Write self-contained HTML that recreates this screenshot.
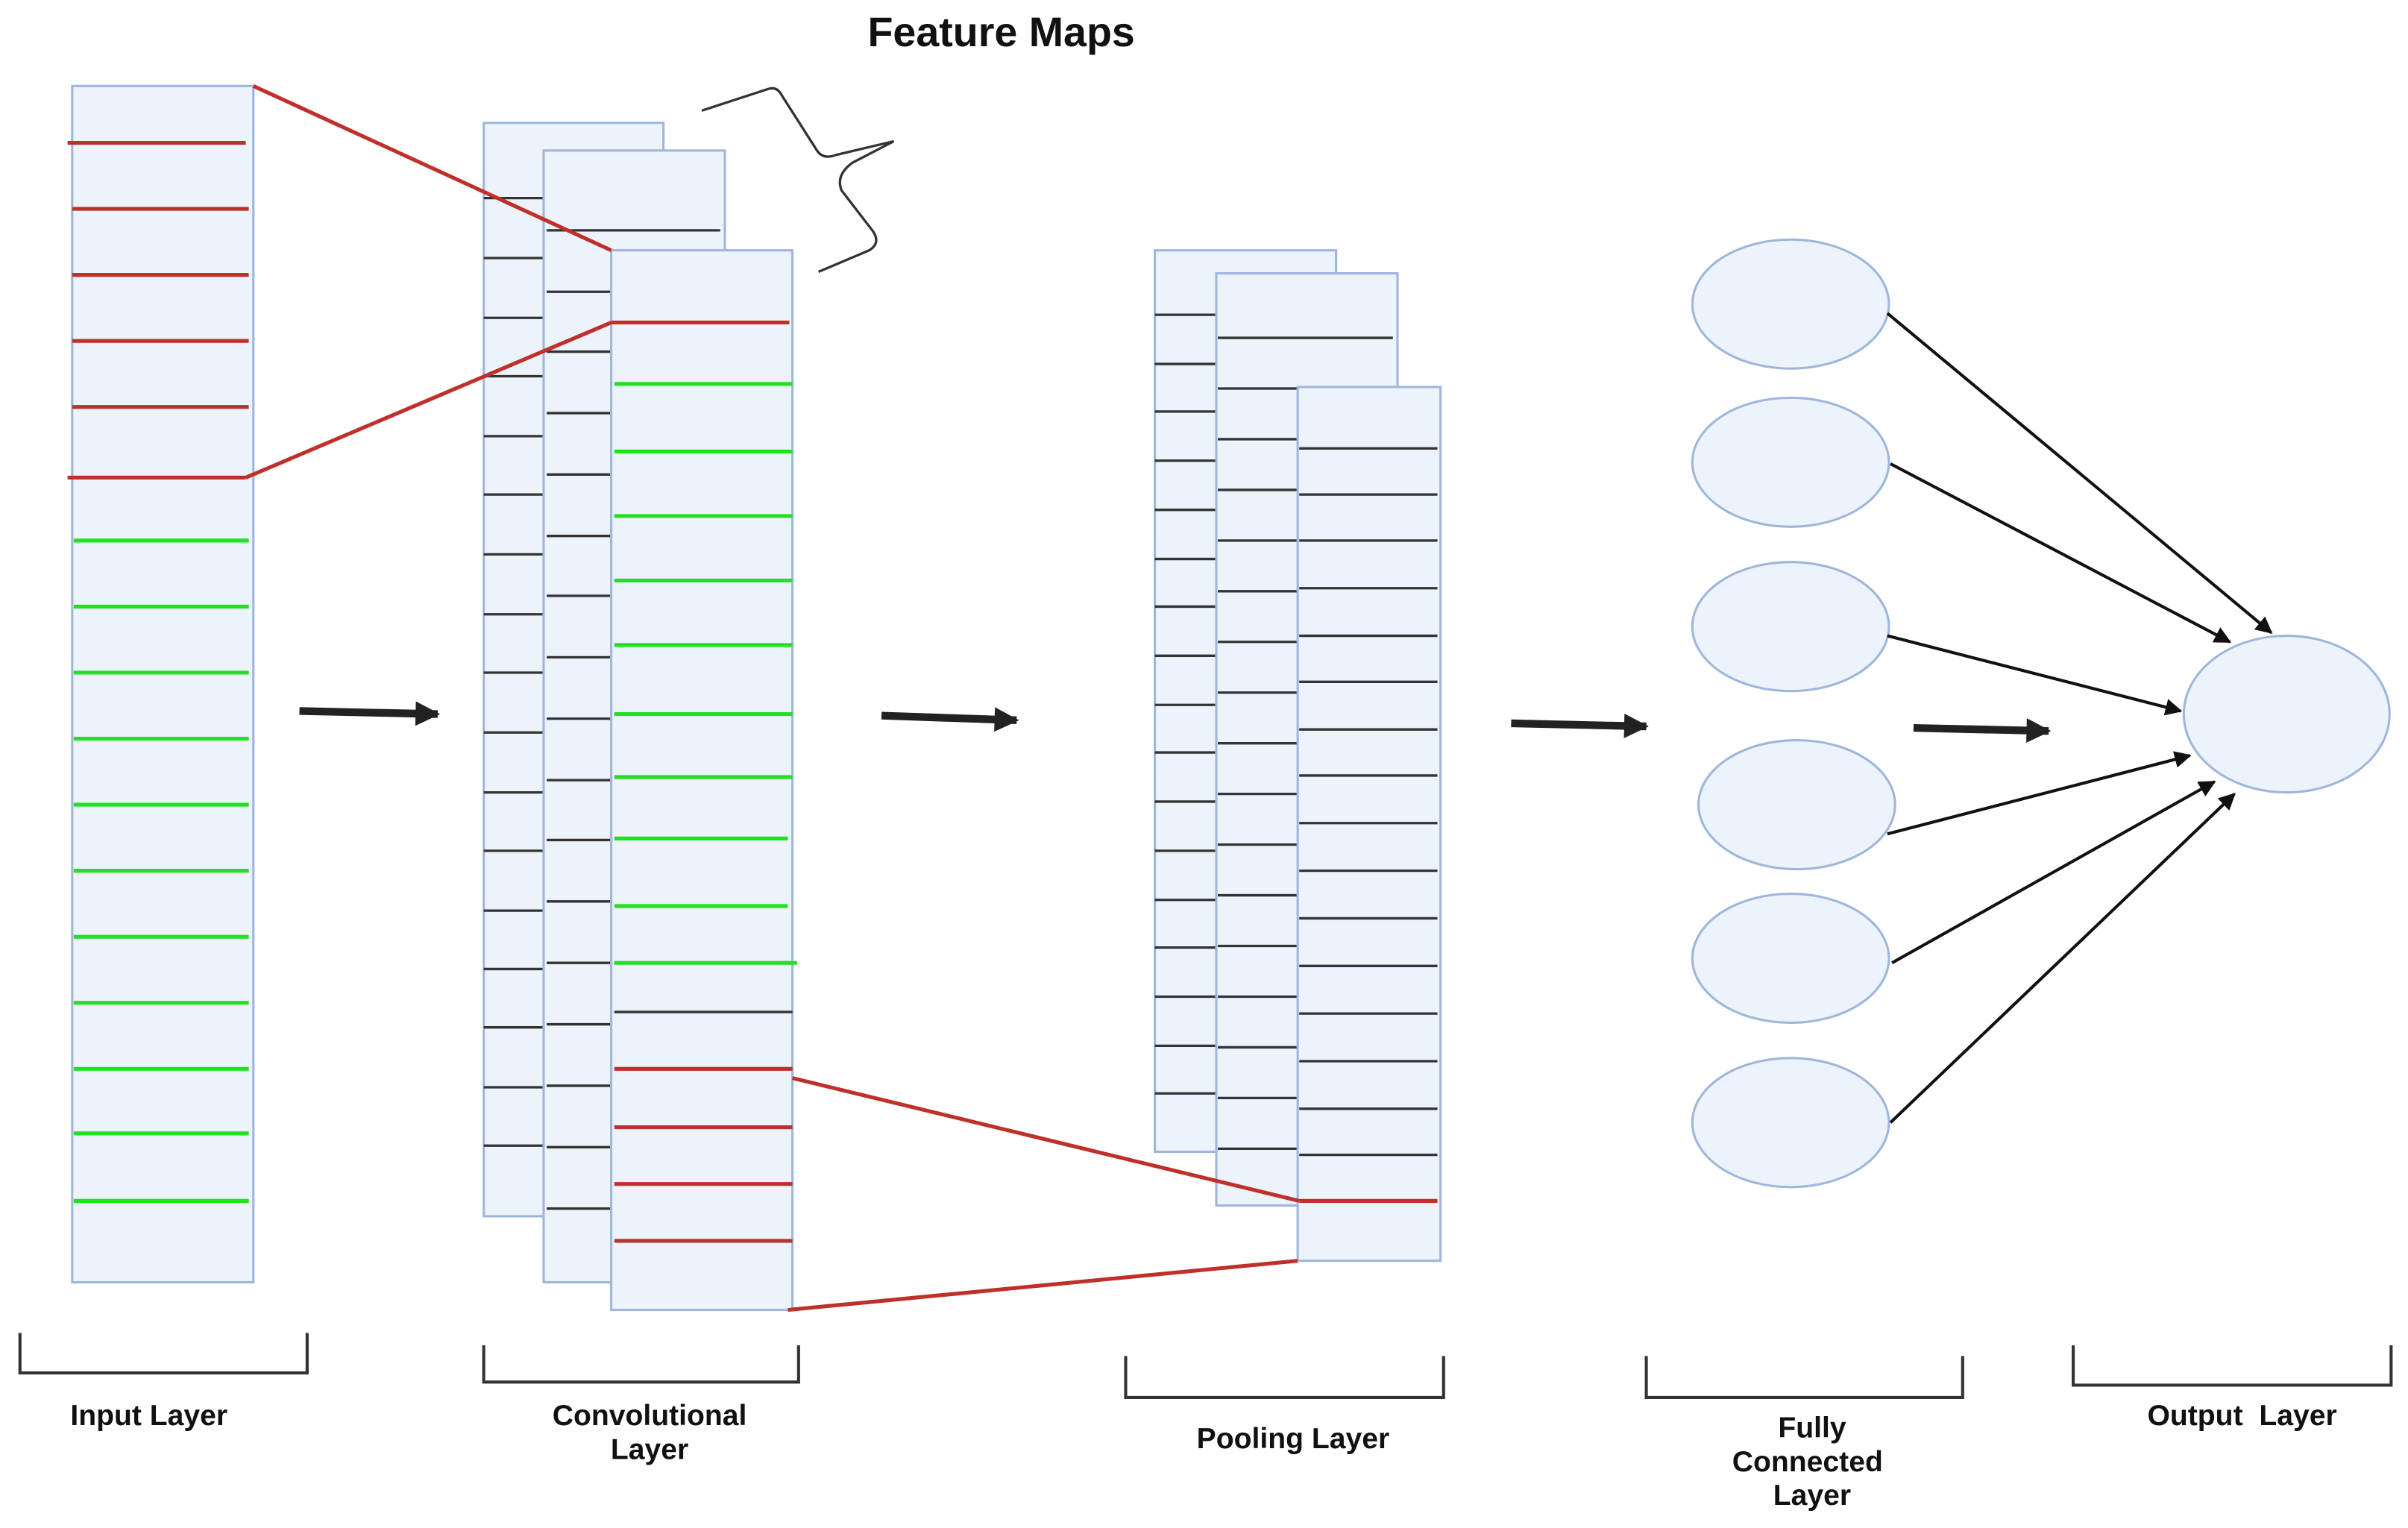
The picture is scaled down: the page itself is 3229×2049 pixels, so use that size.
<!DOCTYPE html>
<html><head><meta charset="utf-8"><style>
html,body{margin:0;padding:0;background:#fff;}
svg{display:block;}
text{font-family:"Liberation Sans",sans-serif;font-weight:bold;fill:#111;}
</style></head><body>
<svg width="3229" height="2049" viewBox="0 0 1568 995" preserveAspectRatio="none" xmlns="http://www.w3.org/2000/svg">
<defs>
<marker id="ah" viewBox="0 0 10 10" refX="9" refY="5" markerWidth="16" markerHeight="11" orient="auto" markerUnits="userSpaceOnUse"><path d="M0,0 L10,5 L0,10 z" fill="#111"/></marker>
<marker id="ah2" viewBox="0 0 10 10" refX="9" refY="5" markerWidth="18" markerHeight="16" orient="auto" markerUnits="userSpaceOnUse"><path d="M0,0 L10,5 L0,10 z" fill="#222"/></marker>
</defs>
<rect width="1568" height="995" fill="#fff"/>
<text x="652" y="30" font-size="27" text-anchor="middle">Feature Maps</text>

<!-- Input layer -->
<rect x="47" y="56" width="118" height="779" fill="#edf3fb" stroke="#9fb6dc" stroke-width="1.5"/>
<g stroke="#c0302a" stroke-width="2.5">
<line x1="44" y1="93" x2="160" y2="93"/><line x1="47" y1="136" x2="162" y2="136"/><line x1="47" y1="179" x2="162" y2="179"/><line x1="47" y1="222" x2="162" y2="222"/><line x1="47" y1="265" x2="162" y2="265"/><line x1="44" y1="311" x2="160" y2="311"/>
</g>
<g stroke="#22e022" stroke-width="2.5">
<line x1="48" y1="352" x2="162" y2="352"/><line x1="48" y1="395" x2="162" y2="395"/><line x1="48" y1="438" x2="162" y2="438"/><line x1="48" y1="481" x2="162" y2="481"/><line x1="48" y1="524" x2="162" y2="524"/><line x1="48" y1="567" x2="162" y2="567"/><line x1="48" y1="610" x2="162" y2="610"/><line x1="48" y1="653" x2="162" y2="653"/><line x1="48" y1="696" x2="162" y2="696"/><line x1="48" y1="738" x2="162" y2="738"/><line x1="48" y1="782" x2="162" y2="782"/>
</g>

<!-- Conv layer -->
<rect x="315" y="80" width="117" height="712" fill="#edf3fb" stroke="#9fb6dc" stroke-width="1.5"/>
<g stroke="#333" stroke-width="1.6">
<line x1="315" y1="129" x2="354" y2="129"/><line x1="315" y1="168" x2="354" y2="168"/><line x1="315" y1="207" x2="354" y2="207"/><line x1="315" y1="245" x2="354" y2="245"/><line x1="315" y1="284" x2="354" y2="284"/><line x1="315" y1="322" x2="354" y2="322"/><line x1="315" y1="361" x2="354" y2="361"/><line x1="315" y1="400" x2="354" y2="400"/><line x1="315" y1="438" x2="354" y2="438"/><line x1="315" y1="477" x2="354" y2="477"/><line x1="315" y1="516" x2="354" y2="516"/><line x1="315" y1="554" x2="354" y2="554"/><line x1="315" y1="593" x2="354" y2="593"/><line x1="315" y1="631" x2="354" y2="631"/><line x1="315" y1="669" x2="354" y2="669"/><line x1="315" y1="708" x2="354" y2="708"/><line x1="315" y1="746" x2="354" y2="746"/>
</g>
<rect x="354" y="98" width="118" height="737" fill="#edf3fb" stroke="#9fb6dc" stroke-width="1.5"/>
<g stroke="#333" stroke-width="1.6">
<line x1="356" y1="150" x2="469" y2="150"/><line x1="356" y1="190" x2="398" y2="190"/><line x1="356" y1="229" x2="398" y2="229"/><line x1="356" y1="269" x2="398" y2="269"/><line x1="356" y1="309" x2="398" y2="309"/><line x1="356" y1="349" x2="398" y2="349"/><line x1="356" y1="388" x2="398" y2="388"/><line x1="356" y1="428" x2="398" y2="428"/><line x1="356" y1="468" x2="398" y2="468"/><line x1="356" y1="508" x2="398" y2="508"/><line x1="356" y1="547" x2="398" y2="547"/><line x1="356" y1="587" x2="398" y2="587"/><line x1="356" y1="627" x2="398" y2="627"/><line x1="356" y1="667" x2="398" y2="667"/><line x1="356" y1="707" x2="398" y2="707"/><line x1="356" y1="747" x2="398" y2="747"/><line x1="356" y1="787" x2="398" y2="787"/>
</g>
<rect x="398" y="163" width="118" height="690" fill="#edf3fb" stroke="#9fb6dc" stroke-width="1.5"/>
<g stroke="#22e022" stroke-width="2.5">
<line x1="400" y1="250" x2="516" y2="250"/><line x1="400" y1="294" x2="516" y2="294"/><line x1="400" y1="336" x2="516" y2="336"/><line x1="400" y1="378" x2="516" y2="378"/><line x1="400" y1="420" x2="516" y2="420"/><line x1="400" y1="465" x2="516" y2="465"/><line x1="400" y1="506" x2="516" y2="506"/><line x1="400" y1="546" x2="513" y2="546"/><line x1="400" y1="590" x2="513" y2="590"/><line x1="400" y1="627" x2="519" y2="627"/>
</g>
<line x1="400" y1="659" x2="516" y2="659" stroke="#333" stroke-width="1.6"/>
<g stroke="#c0302a" stroke-width="2.5">
<line x1="398" y1="210" x2="514" y2="210"/><line x1="400" y1="696" x2="516" y2="696"/><line x1="400" y1="734" x2="516" y2="734"/><line x1="400" y1="771" x2="516" y2="771"/><line x1="400" y1="808" x2="516" y2="808"/>
<line x1="165" y1="56" x2="398" y2="163"/><line x1="160" y1="311" x2="398" y2="210"/>
</g>
<!-- brace -->
<path d="M457,72 L500,58 Q506,56 509,62 L532,98 Q536,104 544,101 L582,92 L555,106 Q544,114 548,124 L568,150 Q574,158 566,163 L533,177" fill="none" stroke="#333" stroke-width="1.6"/>

<!-- Pooling -->
<rect x="752" y="163" width="118" height="587" fill="#edf3fb" stroke="#9fb6dc" stroke-width="1.5"/>
<g stroke="#333" stroke-width="1.6">
<line x1="752" y1="205" x2="792" y2="205"/><line x1="752" y1="237" x2="792" y2="237"/><line x1="752" y1="268" x2="792" y2="268"/><line x1="752" y1="300" x2="792" y2="300"/><line x1="752" y1="332" x2="792" y2="332"/><line x1="752" y1="364" x2="792" y2="364"/><line x1="752" y1="395" x2="792" y2="395"/><line x1="752" y1="427" x2="792" y2="427"/><line x1="752" y1="459" x2="792" y2="459"/><line x1="752" y1="490" x2="792" y2="490"/><line x1="752" y1="522" x2="792" y2="522"/><line x1="752" y1="554" x2="792" y2="554"/><line x1="752" y1="586" x2="792" y2="586"/><line x1="752" y1="617" x2="792" y2="617"/><line x1="752" y1="649" x2="792" y2="649"/><line x1="752" y1="681" x2="792" y2="681"/><line x1="752" y1="712" x2="792" y2="712"/>
</g>
<rect x="792" y="178" width="118" height="607" fill="#edf3fb" stroke="#9fb6dc" stroke-width="1.5"/>
<g stroke="#333" stroke-width="1.6">
<line x1="793" y1="220" x2="907" y2="220"/><line x1="793" y1="253" x2="845" y2="253"/><line x1="793" y1="286" x2="845" y2="286"/><line x1="793" y1="319" x2="845" y2="319"/><line x1="793" y1="352" x2="845" y2="352"/><line x1="793" y1="385" x2="845" y2="385"/><line x1="793" y1="418" x2="845" y2="418"/><line x1="793" y1="451" x2="845" y2="451"/><line x1="793" y1="484" x2="845" y2="484"/><line x1="793" y1="517" x2="845" y2="517"/><line x1="793" y1="550" x2="845" y2="550"/><line x1="793" y1="583" x2="845" y2="583"/><line x1="793" y1="616" x2="845" y2="616"/><line x1="793" y1="649" x2="845" y2="649"/><line x1="793" y1="682" x2="845" y2="682"/><line x1="793" y1="715" x2="845" y2="715"/><line x1="793" y1="748" x2="845" y2="748"/>
</g>
<rect x="845" y="252" width="93" height="569" fill="#edf3fb" stroke="#9fb6dc" stroke-width="1.5"/>
<g stroke="#333" stroke-width="1.6">
<line x1="846" y1="292" x2="936" y2="292"/><line x1="846" y1="322" x2="936" y2="322"/><line x1="846" y1="352" x2="936" y2="352"/><line x1="846" y1="383" x2="936" y2="383"/><line x1="846" y1="414" x2="936" y2="414"/><line x1="846" y1="444" x2="936" y2="444"/><line x1="846" y1="475" x2="936" y2="475"/><line x1="846" y1="505" x2="936" y2="505"/><line x1="846" y1="536" x2="936" y2="536"/><line x1="846" y1="567" x2="936" y2="567"/><line x1="846" y1="598" x2="936" y2="598"/><line x1="846" y1="629" x2="936" y2="629"/><line x1="846" y1="660" x2="936" y2="660"/><line x1="846" y1="691" x2="936" y2="691"/><line x1="846" y1="722" x2="936" y2="722"/><line x1="846" y1="752" x2="936" y2="752"/>
</g>
<g stroke="#c0302a" stroke-width="2.5">
<line x1="846" y1="782" x2="936" y2="782"/>
<line x1="516" y1="702" x2="846" y2="782"/><line x1="513" y1="853" x2="845" y2="821"/>
</g>

<!-- big arrows -->
<g stroke="#222" stroke-width="5" marker-end="url(#ah2)">
<line x1="195" y1="463" x2="285" y2="465"/><line x1="574" y1="466" x2="662" y2="469"/><line x1="984" y1="471" x2="1072" y2="473"/><line x1="1246" y1="474" x2="1334" y2="476"/>
</g>

<!-- FC -->
<g fill="#edf3fb" stroke="#9fb6dc" stroke-width="1.5">
<ellipse cx="1166" cy="198" rx="64" ry="42"/><ellipse cx="1166" cy="301" rx="64" ry="42"/><ellipse cx="1166" cy="408" rx="64" ry="42"/><ellipse cx="1170" cy="524" rx="64" ry="42"/><ellipse cx="1166" cy="624" rx="64" ry="42"/><ellipse cx="1166" cy="731" rx="64" ry="42"/>
<ellipse cx="1489" cy="465" rx="67" ry="51"/>
</g>
<g stroke="#111" stroke-width="2" marker-end="url(#ah)">
<line x1="1229" y1="204" x2="1479" y2="412"/><line x1="1231" y1="302" x2="1452" y2="418"/><line x1="1229" y1="414" x2="1420" y2="463"/><line x1="1229" y1="543" x2="1426" y2="492"/><line x1="1232" y1="627" x2="1442" y2="509"/><line x1="1231" y1="731" x2="1455" y2="517"/>
</g>

<!-- brackets -->
<g fill="none" stroke="#333" stroke-width="2">
<path d="M13,868 V894 H200 V868"/><path d="M315,876 V900 H520 V876"/><path d="M733,883 V910 H940 V883"/><path d="M1072,883 V910 H1278 V883"/><path d="M1350,876 V902 H1557 V876"/>
</g>
<g font-size="19" text-anchor="middle">
<text x="97" y="928">Input Layer</text>
<text x="423" y="928">Convolutional</text><text x="423" y="950">Layer</text>
<text x="842" y="943">Pooling Layer</text>
<text x="1180" y="936">Fully</text><text x="1177" y="958">Connected</text><text x="1180" y="980">Layer</text>
<text x="1460" y="928" xml:space="preserve">Output  Layer</text>
</g>
</svg>
</body></html>
